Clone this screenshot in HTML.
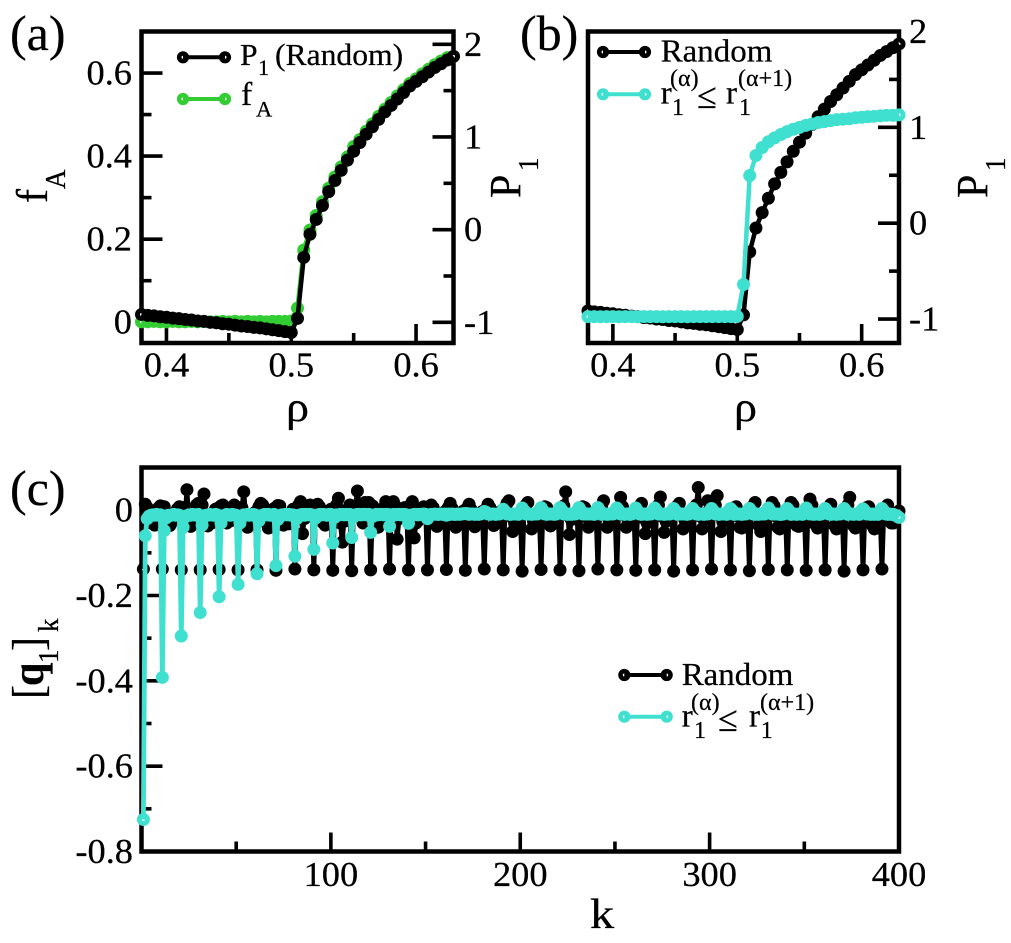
<!DOCTYPE html>
<html lang="en">
<head>
<meta charset="utf-8">
<title>Panels a, b and c</title>
<style>
html,body{margin:0;padding:0;background:#fff;}
svg{display:block;}
text{font-family:"Liberation Serif","DejaVu Serif",serif;fill:#000;stroke:#000;stroke-width:.25px;}
</style>
</head>
<body>
<svg id="fig" xmlns="http://www.w3.org/2000/svg" width="1011" height="943" viewBox="0 0 1011 943">
  <rect width="1011" height="943" fill="#fff"/>
  <g id="layerA"></g>
  <g id="layerB"></g>
  <g id="layerC"></g>

  <text transform="translate(10,50)" font-size="50">(a)</text>
  <text transform="translate(520,50)" font-size="50">(b)</text>
  <text transform="translate(10,505)" font-size="50">(c)</text>

  <text transform="translate(286,421) scale(1.1,1)" font-size="42">ρ</text>
  <text transform="translate(734,421) scale(1.1,1)" font-size="42">ρ</text>
  <text transform="translate(590,928) scale(1.15,1)" font-size="42">k</text>

  <g>
    <text transform="translate(47,203) scale(1.05,1) rotate(-90)" font-size="42">f</text>
    <text transform="translate(65,189) scale(1.05,1) rotate(-90)" font-size="27">A</text>
  </g>
  <g>
    <text transform="translate(520,198) scale(1.05,1) rotate(-90)" font-size="42">P</text>
    <text transform="translate(538,171) scale(1.05,1) rotate(-90)" font-size="27">1</text>
  </g>
  <g>
    <text transform="translate(987,198) scale(1.05,1) rotate(-90)" font-size="42">P</text>
    <text transform="translate(1005,171) scale(1.05,1) rotate(-90)" font-size="27">1</text>
  </g>
  <g>
    <text transform="translate(43,699) scale(1.05,1) rotate(-90)" font-size="42">[</text>
    <text transform="translate(43,686) scale(1.05,1) rotate(-90)" font-size="42" font-weight="bold">q</text>
    <text transform="translate(58,663) scale(1.05,1) rotate(-90)" font-size="27">1</text>
    <text transform="translate(43,651) scale(1.05,1) rotate(-90)" font-size="42">]</text>
    <text transform="translate(58,632) scale(1.05,1) rotate(-90)" font-size="27">k</text>
  </g>

  <g>
    <g>
      <circle cx="183" cy="57.3" r="3.8" fill="#fff" stroke="#000" stroke-width="4.6"/>
      <circle cx="225" cy="57.3" r="3.8" fill="#fff" stroke="#000" stroke-width="4.6"/>
      <line x1="183" y1="57.3" x2="225" y2="57.3" stroke="#000" stroke-width="4"/>
      <text transform="translate(240,65) scale(1.02,1)" font-size="31">P</text>
      <text transform="translate(258,75) scale(1.02,1)" font-size="22">1</text>
      <text transform="translate(275,65) scale(1.02,1)" font-size="31">(Random)</text>
    </g>
    <g>
      <circle cx="183" cy="99" r="3.8" fill="#fff" stroke="#32cd32" stroke-width="4.6"/>
      <circle cx="225" cy="99" r="3.8" fill="#fff" stroke="#32cd32" stroke-width="4.6"/>
      <line x1="183" y1="99" x2="225" y2="99" stroke="#32cd32" stroke-width="4"/>
      <text transform="translate(241,105) scale(1.02,1)" font-size="33">f</text>
      <text transform="translate(256,116.7) scale(1.02,1)" font-size="22">A</text>
    </g>
  </g>

  <g>
    <g>
      <circle cx="603" cy="52" r="3.8" fill="#fff" stroke="#000" stroke-width="4.6"/>
      <circle cx="645" cy="52" r="3.8" fill="#fff" stroke="#000" stroke-width="4.6"/>
      <line x1="603" y1="52" x2="645" y2="52" stroke="#000" stroke-width="4"/>
      <text transform="translate(660.7,61.7) scale(1.03,1)" font-size="32">Random</text>
    </g>
    <g>
      <circle cx="603" cy="94.3" r="3.8" fill="#fff" stroke="#40e0d0" stroke-width="4.6"/>
      <circle cx="645" cy="94.3" r="3.8" fill="#fff" stroke="#40e0d0" stroke-width="4.6"/>
      <line x1="603" y1="94.3" x2="645" y2="94.3" stroke="#40e0d0" stroke-width="4"/>
      <text transform="translate(660.7,103.3)" font-size="33">r</text>
      <text transform="translate(670,86)" font-size="24">(α)</text>
      <text transform="translate(672,115)" font-size="24">1</text>
      <text transform="translate(697,108)" font-size="36">≤</text>
      <text transform="translate(726,103.3)" font-size="33">r</text>
      <text transform="translate(738,86)" font-size="24">(α+1)</text>
      <text transform="translate(739,115)" font-size="24">1</text>
    </g>
  </g>

  <g>
    <g>
      <circle cx="624.3" cy="675" r="3.8" fill="#fff" stroke="#000" stroke-width="4.6"/>
      <circle cx="666.7" cy="675" r="3.8" fill="#fff" stroke="#000" stroke-width="4.6"/>
      <line x1="624.3" y1="675" x2="666.7" y2="675" stroke="#000" stroke-width="4"/>
      <text transform="translate(681.7,685) scale(1.03,1)" font-size="32">Random</text>
    </g>
    <g>
      <circle cx="624.3" cy="716.7" r="3.8" fill="#fff" stroke="#40e0d0" stroke-width="4.6"/>
      <circle cx="666.7" cy="716.7" r="3.8" fill="#fff" stroke="#40e0d0" stroke-width="4.6"/>
      <line x1="624.3" y1="716.7" x2="666.7" y2="716.7" stroke="#40e0d0" stroke-width="4"/>
      <text transform="translate(681.7,726.5)" font-size="33">r</text>
      <text transform="translate(691,710)" font-size="24">(α)</text>
      <text transform="translate(694,738)" font-size="24">1</text>
      <text transform="translate(718,731)" font-size="36">≤</text>
      <text transform="translate(749,726.5)" font-size="33">r</text>
      <text transform="translate(760,710)" font-size="24">(α+1)</text>
      <text transform="translate(760.7,738)" font-size="24">1</text>
    </g>
  </g>
</svg>

<script>
const rhoValues = [.38,.385,.39,.395,.4,.405,.41,.415,.42,.425,.43,.435,.44,.445,.45,.455,.46,.465,.47,.475,.48,.485,.49,.495,.5,
  .505,.51,.515,.52,.525,.53,.535,.54,.545,.55,.555,.56,.565,.57,.575,.58,.585,.59,.595,.6,.605,.61,.615,.62,.625,.63];
const p1Random = [-.915,-.925,-.93,-.94,-.945,-.955,-.96,-.97,-.975,-.985,-.99,-1,-1.005,-1.015,-1.02,-1.03,-1.04,-1.045,-1.055,-1.06,-1.07,-1.08,-1.09,-1.1,-1.11,
  -.957,-.3,-.05,.11,.26,.41,.53,.64,.75,.845,.94,1.03,1.11,1.19,1.27,1.34,1.41,1.48,1.55,1.6,1.65,1.7,1.75,1.79,1.83,1.87];
const fAValues = [.001,.001,.002,.001,.001,.002,.001,.001,.002,.001,.002,.001,.001,.002,.001,.002,.001,.002,.001,.002,.001,.002,.002,.002,.003,
  .034,.174,.222,.257,.29,.323,.35,.374,.398,.423,.44,.46,.478,.496,.513,.529,.545,.56,.575,.586,.598,.609,.62,.629,.637,.64];
const p1Ordered = [-.975,-.975,-.976,-.975,-.975,-.976,-.975,-.975,-.976,-.975,-.975,-.975,-.976,-.975,-.975,-.975,-.976,-.975,-.975,-.975,-.975,-.975,-.975,-.975,-.973,
  -.64,.497,.706,.79,.85,.89,.925,.955,.98,1,1.02,1.035,1.05,1.06,1.07,1.08,1.085,1.09,1.1,1.105,1.11,1.115,1.12,1.125,1.125,1.13];

const ticksAX = [.4,.45,.5,.55,.6];
const ticksAXLabels = ["0.4","","0.5","","0.6"];
const ticksALeft = [0,.1,.2,.3,.4,.5,.6];
const ticksALeftLabels = ["0","","0.2","","0.4","","0.6"];
const ticksRightA = [-1,-.5,0,.5,1,1.5,2];
const ticksRightALabels = ["-1","","0","","1","","2"];
const ticksCX = [50,100,150,200,250,300,350,400];
const ticksCXLabels = ["","100","","200","","300","","400"];
const ticksCY = [-.8,-.7,-.6,-.5,-.4,-.3,-.2,-.1,0];
const ticksCYLabels = ["-0.8","","-0.6","","-0.4","","-0.2","","0"];

const kRandom = [
-.138,.014,.006,-.012,-.03,-.02,-.035,-.018,.005,.01,
-.138,.008,-.005,-.018,-.036,-.015,-.025,-.01,.003,.008,
-.14,.006,-.01,.048,-.03,-.038,-.02,-.012,.012,.016,
-.14,.012,.038,-.015,-.037,-.02,-.03,-.01,.002,.004,
-.139,.01,.012,-.02,-.03,-.018,-.025,.008,.012,.008,
-.14,.002,.006,.043,-.012,-.04,-.028,-.015,-.03,-.005,
-.14,.008,.016,.012,-.02,-.03,-.042,-.02,-.01,.004,
-.141,.011,.01,-.01,-.035,-.025,-.02,-.032,-.01,.002,
-.138,.004,.012,.02,-.055,-.02,-.01,.008,.012,.004,
-.14,.006,.014,.008,-.02,-.03,-.035,-.015,-.01,.002,
-.141,.006,.012,.028,-.03,-.075,-.02,-.025,.002,.012,
-.142,.008,.01,.045,.002,-.02,-.03,.018,.012,.018,
-.14,.01,.004,-.02,-.04,-.03,-.01,.006,.02,.012,
-.138,.01,.02,.01,-.068,-.02,-.01,.002,.006,.004,
-.14,.012,.02,-.065,-.03,-.025,-.02,.005,.008,.006,
-.14,.004,.012,.006,-.012,-.038,-.028,-.02,-.01,-.004,
-.139,.006,.016,.004,-.018,-.04,-.025,-.018,-.006,-.002,
-.141,.005,.014,.002,-.02,-.039,-.03,-.016,-.012,-.003,
-.138,.003,.014,.006,-.012,-.036,-.022,-.028,-.01,-.002,
-.14,.006,.016,.022,-.015,-.05,-.03,-.02,-.012,-.004,
-.143,.004,.012,.018,-.01,-.044,-.026,-.018,-.01,-.002,
-.139,.003,.008,.006,-.014,-.037,-.024,-.03,-.008,-.002,
-.14,.006,.01,.043,-.012,-.057,-.022,-.02,-.01,-.005,
-.142,.004,.008,.006,-.016,-.04,-.028,-.018,-.012,-.004,
-.138,.003,.01,.022,-.012,-.04,-.026,-.02,-.009,-.003,
-.14,.006,.03,.008,-.012,-.04,-.03,-.018,-.012,-.004,
-.141,.004,.008,.016,-.018,-.055,-.03,-.02,-.012,-.004,
-.14,.004,.012,.031,-.014,-.052,-.026,-.018,-.01,-.003,
-.143,.003,.01,.016,-.012,-.044,-.024,-.02,-.01,-.003,
-.14,.005,.012,.053,-.014,-.044,-.022,-.018,.022,.002,
-.138,.004,.012,.034,-.012,-.05,-.028,-.02,-.01,-.004,
-.14,.002,.006,.008,-.014,-.04,-.042,-.022,-.012,-.004,
-.142,.004,.01,.018,-.012,-.036,-.05,-.02,-.012,-.004,
-.139,.006,.018,.01,-.014,-.04,-.044,-.02,-.01,-.003,
-.14,.004,.018,.012,-.016,-.036,-.038,-.02,-.012,-.004,
-.141,.006,.026,.012,-.014,-.034,-.042,-.022,-.01,-.003,
-.14,.004,.008,.014,-.012,-.036,-.044,-.02,-.01,-.004,
-.143,.004,.012,.03,-.012,-.036,-.042,-.02,-.012,-.004,
-.14,.002,.006,.008,-.014,-.036,-.044,-.02,-.012,-.006,
-.138,.002,.004,.012,-.012,-.03,-.03,-.02,-.012,-.002
];
const kOrdered = [
-.725,-.06,-.02,-.014,-.012,-.011,-.012,-.01,-.012,-.011,
-.392,-.048,-.018,-.012,-.013,-.011,-.01,-.012,-.011,-.012,
-.295,-.04,-.016,-.013,-.011,-.012,-.01,-.011,-.012,-.01,
-.24,-.035,-.015,-.012,-.012,-.01,-.011,-.012,-.01,-.011,
-.203,-.03,-.014,-.012,-.01,-.011,-.012,-.01,-.011,-.012,
-.174,-.03,-.014,-.011,-.012,-.01,-.012,-.011,-.01,-.011,
-.149,-.025,-.013,-.012,-.01,-.011,-.01,-.012,-.011,-.01,
-.13,-.022,-.013,-.011,-.011,-.01,-.011,-.01,-.012,-.011,
-.108,-.02,-.012,-.011,-.01,-.012,-.01,-.011,-.01,-.011,
-.092,-.018,-.012,-.01,-.011,-.01,-.011,-.012,-.01,-.01,
-.077,-.017,-.011,-.011,-.01,-.01,-.011,-.01,-.011,-.01,
-.064,-.016,-.011,-.01,-.01,-.011,-.01,-.01,-.011,-.01,
-.052,-.015,-.011,-.01,-.011,-.01,-.01,-.011,-.01,-.01,
-.038,-.014,-.01,-.011,-.01,-.01,-.011,-.01,-.01,-.011,
-.031,-.013,-.011,-.01,-.01,-.011,-.01,-.01,-.009,-.01,
-.02,-.012,-.01,-.01,-.009,-.01,-.01,-.009,-.01,-.009,
-.012,-.009,-.01,-.009,-.01,-.01,-.009,-.01,-.009,-.008,
-.008,-.008,-.01,-.009,-.009,-.01,-.009,-.01,-.009,-.007,
-.003,-.005,-.009,-.01,-.009,-.009,-.01,-.009,-.009,-.005,
.002,-.003,-.009,-.009,-.01,-.009,-.009,-.009,-.01,-.003,
.005,-.001,-.009,-.009,-.009,-.01,-.009,-.009,-.009,-.002,
.006,-.001,-.009,-.01,-.009,-.009,-.009,-.01,-.009,-.002,
.006,0,-.009,-.009,-.01,-.009,-.01,-.009,-.009,-.002,
.006,-.001,-.009,-.009,-.009,-.009,-.009,-.009,-.01,-.002,
.006,-.001,-.01,-.009,-.009,-.01,-.009,-.009,-.009,-.002,
.005,-.001,-.009,-.009,-.01,-.009,-.009,-.01,-.009,-.002,
.005,-.002,-.009,-.01,-.009,-.009,-.01,-.009,-.009,-.002,
.005,-.001,-.009,-.009,-.009,-.01,-.009,-.009,-.009,-.002,
.004,-.002,-.01,-.009,-.009,-.009,-.009,-.01,-.009,-.002,
.004,-.002,-.009,-.01,-.009,-.009,-.01,-.009,-.009,-.002,
.004,-.002,-.009,-.009,-.01,-.009,-.009,-.009,-.01,-.002,
.004,-.001,-.01,-.009,-.009,-.009,-.01,-.009,-.009,-.002,
.004,-.002,-.009,-.01,-.009,-.01,-.009,-.009,-.009,-.002,
.005,-.002,-.009,-.009,-.009,-.009,-.01,-.01,-.009,-.002,
.004,-.002,-.01,-.009,-.009,-.01,-.009,-.009,-.01,-.002,
.005,-.002,-.009,-.009,-.01,-.009,-.009,-.01,-.009,-.002,
.004,-.002,-.009,-.01,-.009,-.009,-.01,-.009,-.009,-.002,
.004,-.002,-.01,-.009,-.009,-.01,-.009,-.009,-.01,-.002,
.003,-.002,-.009,-.009,-.01,-.009,-.01,-.009,-.01,-.003,
.004,-.002,-.009,-.01,-.009,-.01,-.01,-.012,-.014,-.017
];

const NS = "http://www.w3.org/2000/svg";
const BLACK = "#000", GREEN = "#32cd32", TEAL = "#40e0d0";

function linear(d0, d1, r0, r1) {
  return function (v) { return r0 + (v - d0) * (r1 - r0) / (d1 - d0); };
}

const xA = linear(.38, .63, 141.5, 453.5);
const yALeft = linear(-.05, .7, 343, 31.5);
const yARight = linear(-1.223, 2.138, 343, 31.5);
const xB = linear(.38, .63, 588, 899);
const yB = linear(-1.25, 2, 343, 31.5);
const xC = linear(0, 400, 141.5, 899);
const yC = linear(-.8, .1, 851.5, 467.5);

function drawFrame(parent, x0, y0, x1, y1, name) {
  const r = document.createElementNS(NS, "rect");
  r.setAttribute("x", x0);
  r.setAttribute("y", y0);
  r.setAttribute("width", x1 - x0);
  r.setAttribute("height", y1 - y0);
  r.setAttribute("fill", "none");
  r.setAttribute("stroke", BLACK);
  r.setAttribute("stroke-width", "4.5");
  
  
  parent.appendChild(r);
}

function drawTick(parent, x1, y1, x2, y2, name) {
  const l = document.createElementNS(NS, "line");
  l.setAttribute("x1", x1);
  l.setAttribute("y1", y1);
  l.setAttribute("x2", x2);
  l.setAttribute("y2", y2);
  l.setAttribute("stroke", BLACK);
  l.setAttribute("stroke-width", "3.6");
  
  
  parent.appendChild(l);
}

function drawLabel(parent, str, x, y, anchor, name) {
  const t = document.createElementNS(NS, "text");
  t.textContent = str;
  t.setAttribute("transform", "translate(" + x + "," + y + ") scale(1.04,1)");
  t.setAttribute("text-anchor", anchor);
  t.setAttribute("font-size", "35");
  
  
  parent.appendChild(t);
}

function xAxis(parent, vals, labels, sx, yBase, labelY, prefix) {
  vals.forEach(function (v, i) {
    const len = labels[i] ? 19 : 10;
    drawTick(parent, sx(v), yBase, sx(v), yBase - len, prefix + "-x-tick");
    if (labels[i]) drawLabel(parent, labels[i], sx(v), labelY, "middle", prefix + "-x-tick-label");
  });
}

function yAxisLeft(parent, vals, labels, sy, xBase, labelX, prefix) {
  vals.forEach(function (v, i) {
    const len = labels[i] ? 21 : 10;
    drawTick(parent, xBase, sy(v), xBase + len, sy(v), prefix + "-y-tick");
    if (labels[i]) drawLabel(parent, labels[i], labelX, sy(v) + 11.5, "end", prefix + "-y-tick-label");
  });
}

function yAxisRight(parent, vals, labels, sy, xBase, labelX, prefix) {
  vals.forEach(function (v, i) {
    const len = labels[i] ? 21 : 10;
    drawTick(parent, xBase, sy(v), xBase - len, sy(v), prefix + "-right-y-tick");
    if (labels[i]) drawLabel(parent, labels[i], labelX, sy(v) + 11.5, "start", prefix + "-right-y-tick-label");
  });
}

function drawSeries(parent, xs, ys, sx, sy, color, name, lineWidth) {
  const g = document.createElementNS(NS, "g");
  
  
  const pts = [];
  ys.forEach(function (v, i) {
    const cx = sx(xs[i]), cy = sy(v);
    pts.push(cx.toFixed(2) + "," + cy.toFixed(2));
    const c = document.createElementNS(NS, "circle");
    c.setAttribute("cx", cx.toFixed(2));
    c.setAttribute("cy", cy.toFixed(2));
    c.setAttribute("r", "4");
    c.setAttribute("fill", "#fff");
    c.setAttribute("stroke", color);
    c.setAttribute("stroke-width", "5");
    
    
    g.appendChild(c);
  });
  const p = document.createElementNS(NS, "polyline");
  p.setAttribute("points", pts.join(" "));
  p.setAttribute("fill", "none");
  p.setAttribute("stroke", color);
  p.setAttribute("stroke-width", lineWidth);
  p.setAttribute("stroke-linejoin", "round");
  
  
  g.appendChild(p);
  parent.appendChild(g);
}

const layerA = document.getElementById("layerA");
const layerB = document.getElementById("layerB");
const layerC = document.getElementById("layerC");

/* panel a */
drawFrame(layerA, 141.5, 31.5, 453.5, 343, "panel-a-frame");
xAxis(layerA, ticksAX, ticksAXLabels, xA, 343, 376.7, "panel-a");
yAxisLeft(layerA, ticksALeft, ticksALeftLabels, yALeft, 141.5, 132, "panel-a");
yAxisRight(layerA, ticksRightA, ticksRightALabels, yARight, 453.5, 464, "panel-a");
drawSeries(layerA, rhoValues, fAValues, xA, yALeft, GREEN, "series-fa", 4.5);
drawSeries(layerA, rhoValues, p1Random, xA, yARight, BLACK, "series-p1-random", 4.5);

/* panel b */
drawFrame(layerB, 588, 31.5, 899, 343, "panel-b-frame");
xAxis(layerB, ticksAX, ticksAXLabels, xB, 343, 376.7, "panel-b");
yAxisRight(layerB, ticksRightA, ticksRightALabels, yB, 899, 909, "panel-b");
drawSeries(layerB, rhoValues, p1Random, xB, yB, BLACK, "series-random", 4.5);
drawSeries(layerB, rhoValues, p1Ordered, xB, yB, TEAL, "series-ordered", 4.5);

/* panel c */
const kIndex = kRandom.map(function (_, i) { return i + 1; });
drawFrame(layerC, 141.5, 467.5, 899, 851.5, "panel-c-frame");
xAxis(layerC, ticksCX, ticksCXLabels, xC, 851.5, 886, "panel-c");
yAxisLeft(layerC, ticksCY, ticksCYLabels, yC, 141.5, 133, "panel-c");
drawSeries(layerC, kIndex, kRandom, xC, yC, BLACK, "series-random", 4.8);
drawSeries(layerC, kIndex, kOrdered, xC, yC, TEAL, "series-ordered", 4.8);
</script>
</body>
</html>
